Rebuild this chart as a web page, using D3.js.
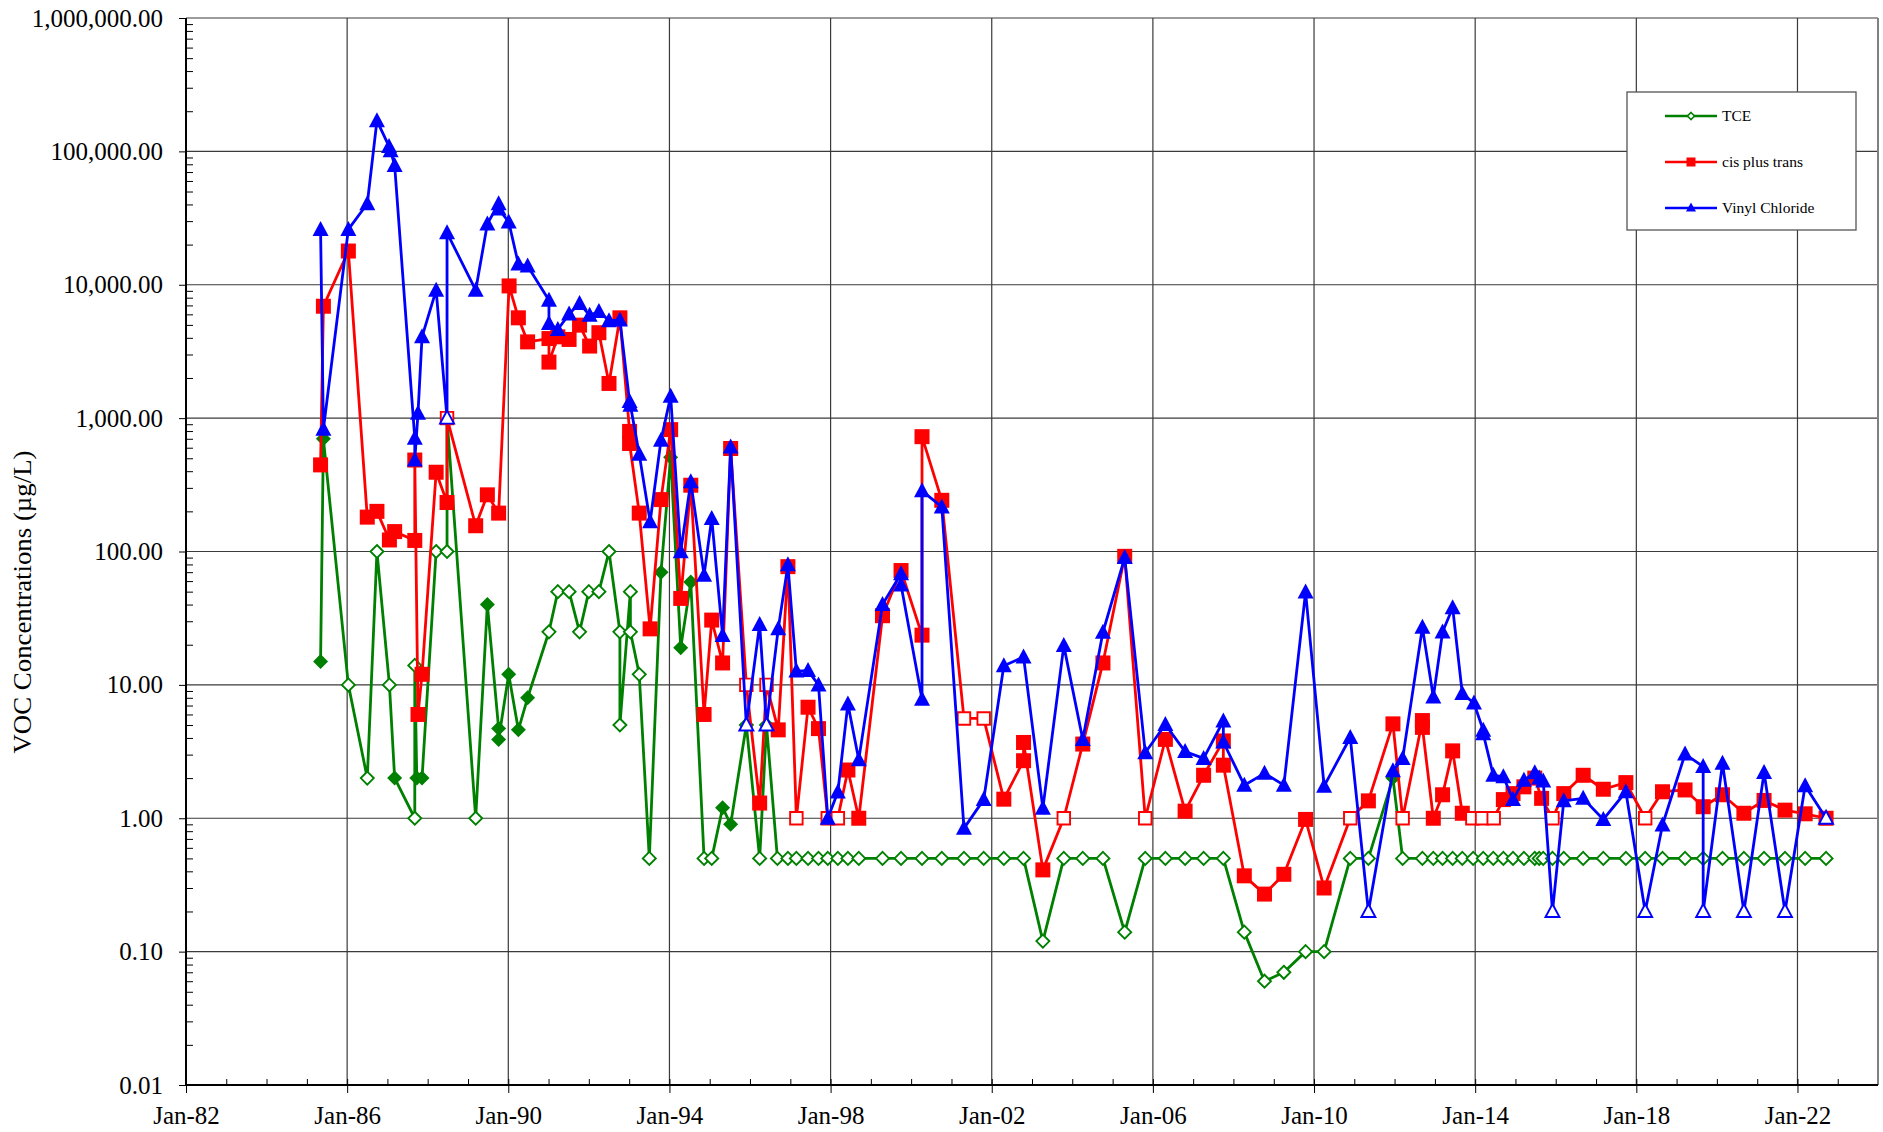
<!DOCTYPE html>
<html>
<head>
<meta charset="utf-8">
<script src="https://cdn.jsdelivr.net/npm/d3@7"></script>
<style>
  body { margin: 0; background: #fff; }
  svg text { font-family: "Liberation Serif", "Times New Roman", serif; fill: #000; }
</style>
</head>
<body>
<svg id="chart" width="1883" height="1132"></svg>
<script>
// ---------------- DATA (decimal year, value in µg/L, 1 = non-detect / open marker) ----------------
const tceYears = [1985.34,1985.41,1986.03,1986.50,1986.74,1987.05,1987.18,1987.68,1987.68,1987.73,1987.86,1988.21,1988.48,1988.48,1989.19,1989.48,1989.76,1989.76,1990.01,1990.25,1990.48,1991.01,1991.23,1991.51,1991.77,1992.00,1992.25,1992.50,1992.77,1992.77,1993.03,1993.03,1993.25,1993.50,1993.79,1994.03,1994.28,1994.53,1994.86,1995.05,1995.32,1995.52,1995.91,1996.24,1996.41,1996.68,1996.94,1997.15,1997.44,1997.70,1997.93,1998.18,1998.43,1998.70,1999.29,1999.75,2000.27,2000.76,2001.31,2001.80,2002.30,2002.79,2003.27,2003.79,2004.26,2004.76,2005.30,2005.81,2006.31,2006.80,2007.26,2007.75,2008.27,2008.77,2009.25,2009.79,2010.25,2010.90,2011.35,2011.96,2012.20,2012.69,2012.96,2013.19,2013.44,2013.68,2013.95,2014.20,2014.45,2014.70,2014.94,2015.21,2015.48,2015.59,2015.69,2015.92,2016.20,2016.68,2017.18,2017.74,2018.22,2018.65,2019.21,2019.66,2020.14,2020.67,2021.17,2021.69,2022.19,2022.71];
const tceValues = [15,700,10,2,100,10,2,1,14,2,2,100,100,1000,1,40,4.7,3.9,12,4.6,8,25,50,50,25,50,50,100,25,5,50,25,12,0.5,70,510,19,59,0.5,0.5,1.2,0.9,5,0.5,5,0.5,0.5,0.5,0.5,0.5,0.5,0.5,0.5,0.5,0.5,0.5,0.5,0.5,0.5,0.5,0.5,0.5,0.12,0.5,0.5,0.5,0.14,0.5,0.5,0.5,0.5,0.5,0.14,0.06,0.07,0.1,0.1,0.5,0.5,2.0,0.5,0.5,0.5,0.5,0.5,0.5,0.5,0.5,0.5,0.5,0.5,0.5,0.5,0.5,0.5,0.5,0.5,0.5,0.5,0.5,0.5,0.5,0.5,0.5,0.5,0.5,0.5,0.5,0.5,0.5];
const tceOpen = [0,0,1,1,1,1,0,1,1,0,0,1,1,1,1,0,0,0,0,0,0,1,1,1,1,1,1,1,1,1,1,1,1,1,0,0,0,0,1,1,0,0,1,1,1,1,1,1,1,1,1,1,1,1,1,1,1,1,1,1,1,1,1,1,1,1,1,1,1,1,1,1,1,1,1,1,1,1,1,0,1,1,1,1,1,1,1,1,1,1,1,1,1,1,1,1,1,1,1,1,1,1,1,1,1,1,1,1,1,1];

const cisYears = [1985.34,1985.41,1986.03,1986.50,1986.74,1987.05,1987.18,1987.68,1987.68,1987.76,1987.86,1988.21,1988.48,1988.48,1989.19,1989.48,1989.76,1990.02,1990.25,1990.48,1991.01,1991.01,1991.23,1991.51,1991.77,1992.02,1992.25,1992.50,1992.77,1993.01,1993.01,1993.25,1993.52,1993.79,1994.03,1994.28,1994.53,1994.86,1995.05,1995.32,1995.52,1995.91,1996.24,1996.41,1996.70,1996.94,1997.15,1997.44,1997.70,1997.93,1998.18,1998.43,1998.70,1999.29,1999.75,2000.27,2000.27,2000.76,2001.31,2001.80,2002.30,2002.79,2002.79,2003.27,2003.79,2004.26,2004.76,2005.30,2005.81,2006.31,2006.80,2007.26,2007.75,2007.75,2008.27,2008.77,2009.25,2009.79,2010.25,2010.90,2011.35,2011.96,2012.20,2012.69,2012.69,2012.96,2013.19,2013.44,2013.68,2013.93,2014.17,2014.46,2014.70,2014.94,2015.21,2015.48,2015.65,2015.92,2016.20,2016.68,2017.18,2017.74,2018.22,2018.65,2019.21,2019.66,2020.14,2020.67,2021.17,2021.69,2022.19,2022.71];
const cisValues = [446,6900,17900,181,200,122,141,121,485,6.0,12,393,233,1000,156,266,194,9800,5650,3730,3950,2630,4070,3890,4980,3470,4370,1820,5650,795,645,194,26.3,245,820,44.5,314,6.0,30.6,14.6,592,10,1.3,10,4.6,77,1.0,6.8,4.7,1.0,1.0,2.3,1.0,33,72,23.6,726,242,5.6,5.6,1.39,2.7,3.7,0.41,1.0,3.6,14.6,92,1.0,3.9,1.13,2.1,3.8,2.5,0.37,0.27,0.38,0.98,0.30,1.0,1.35,5.1,1.0,5.4,4.8,1.0,1.5,3.2,1.09,1.0,1.0,1.0,1.38,1.53,1.72,2.0,1.41,1.0,1.53,2.1,1.65,1.85,1.0,1.58,1.63,1.22,1.5,1.09,1.36,1.15,1.08,1.0];
const cisOpen = [0,0,0,0,0,0,0,0,0,0,0,0,0,1,0,0,0,0,0,0,0,0,0,0,0,0,0,0,0,0,0,0,0,0,0,0,0,0,0,0,0,1,0,1,0,0,1,0,0,1,1,0,0,0,0,0,0,0,1,1,0,0,0,0,1,0,0,0,1,0,0,0,0,0,0,0,0,0,0,1,0,0,1,0,0,0,0,0,0,1,1,1,0,0,0,0,0,1,0,0,0,0,1,0,0,0,0,0,0,0,0,0];

const vcYears = [1985.34,1985.41,1986.03,1986.50,1986.74,1987.04,1987.08,1987.18,1987.68,1987.68,1987.76,1987.86,1988.21,1988.48,1988.48,1989.19,1989.48,1989.76,1989.76,1990.01,1990.25,1990.48,1991.01,1991.01,1991.23,1991.51,1991.77,1992.02,1992.25,1992.50,1992.77,1993.01,1993.03,1993.25,1993.52,1993.79,1994.03,1994.28,1994.53,1994.86,1995.05,1995.32,1995.52,1995.91,1996.24,1996.41,1996.70,1996.94,1997.15,1997.44,1997.70,1997.93,1998.18,1998.43,1998.70,1999.29,1999.75,1999.75,2000.27,2000.27,2000.76,2001.31,2001.80,2002.30,2002.79,2003.27,2003.79,2004.26,2004.76,2005.30,2005.81,2006.31,2006.80,2007.26,2007.75,2007.75,2008.27,2008.77,2009.25,2009.79,2010.25,2010.90,2011.35,2011.96,2012.20,2012.69,2012.96,2013.19,2013.44,2013.68,2013.97,2014.20,2014.20,2014.45,2014.70,2014.94,2015.21,2015.48,2015.59,2015.69,2015.92,2016.20,2016.68,2017.18,2017.74,2018.22,2018.65,2019.21,2019.66,2019.66,2020.14,2020.67,2021.17,2021.69,2022.19,2022.71];
const vcValues = [26000,825,26000,40500,170000,109000,101000,78500,706,485,1090,4070,9100,1000,24500,9100,28600,40500,37000,29600,14300,13800,7650,5130,4620,6030,7250,5900,6300,5380,5430,1330,1250,535,167,682,1460,99.5,333,66.5,177,23.5,608,5.0,28.4,5.0,26.3,79.4,12.7,12.8,10,1.0,1.57,7.2,2.75,40,68,56,7.8,285,216,0.84,1.38,13.9,16.2,1.19,19.7,3.9,24.8,90,3.1,5.05,3.16,2.81,5.37,3.73,1.77,2.17,1.77,49.6,1.74,4.03,0.2,2.27,2.8,27,8.1,24.9,37.9,8.6,7.3,4.57,4.3,2.1,2.05,1.38,1.93,2.19,2.0,1.9,0.2,1.35,1.41,0.98,1.58,0.2,0.89,3.03,2.44,0.2,2.58,0.2,2.2,0.2,1.75,1.0];
const vcOpen = [0,0,0,0,0,0,0,0,0,0,0,0,0,1,0,0,0,0,0,0,0,0,0,0,0,0,0,0,0,0,0,0,0,0,0,0,0,0,0,0,0,0,0,1,0,1,0,0,0,0,0,0,0,0,0,0,0,0,0,0,0,0,0,0,0,0,0,0,0,0,0,0,0,0,0,0,0,0,0,0,0,0,1,0,0,0,0,0,0,0,0,0,0,0,0,0,0,0,0,0,1,0,0,0,0,1,0,0,0,1,0,1,0,1,0,1];

const xTickYears = [1982,1986,1990,1994,1998,2002,2006,2010,2014,2018,2022];
const yTickValues = [0.01,0.1,1,10,100,1000,10000,100000,1000000];
const seriesNames = ["TCE","cis plus trans","Vinyl Chloride"];
const yTitle = "VOC Concentrations (µg/L)";

// ---------------- CHART ----------------
const svg = d3.select("#chart");
const L = 186, R = 1878, T = 18, B = 1085;

function yearToDate(y) {
  const yr = Math.floor(y);
  const s = Date.UTC(yr, 0, 1), e = Date.UTC(yr + 1, 0, 1);
  return new Date(s + (y - yr) * (e - s));
}

const x = d3.scaleUtc().domain([new Date(Date.UTC(1982,0,1)), new Date(Date.UTC(2024,0,1))]).range([L, R]);
const y = d3.scaleLog().domain([0.01, 1e6]).range([B, T]);

const gridColor = "#3a3a3a";
svg.append("g").selectAll("line").data(yTickValues).join("line")
  .attr("x1", L).attr("x2", R)
  .attr("y1", d => y(d)).attr("y2", d => y(d))
  .attr("stroke", gridColor).attr("stroke-width", 1.2);
svg.append("g").selectAll("line").data(xTickYears.slice(1)).join("line")
  .attr("x1", d => x(yearToDate(d))).attr("x2", d => x(yearToDate(d)))
  .attr("y1", T).attr("y2", B)
  .attr("stroke", gridColor).attr("stroke-width", 1.2);
svg.append("line").attr("x1", R).attr("x2", R).attr("y1", T).attr("y2", B)
  .attr("stroke", "#808080").attr("stroke-width", 2);

// minor ticks
const minorY = [];
for (let e = -2; e < 6; e++) for (let m = 2; m <= 9; m++) minorY.push(m * Math.pow(10, e));
svg.append("g").attr("transform", `translate(${L},0)`)
  .call(d3.axisRight(y).tickValues(minorY).tickSize(7).tickFormat(""))
  .call(g => g.select(".domain").remove())
  .call(g => g.selectAll("line").attr("stroke", "#000"));

const minorX = d3.range(1983, 2024).map(yearToDate);
svg.append("g").attr("transform", `translate(0,${B})`)
  .call(d3.axisTop(x).tickValues(minorX).tickSize(6).tickFormat(""))
  .call(g => g.select(".domain").remove())
  .call(g => g.selectAll("line").attr("stroke", "#000"));

// Y axis
const fmtY = d3.format(",.2f");
svg.append("g").attr("transform", `translate(${L},0)`)
  .call(d3.axisLeft(y).tickValues(yTickValues).tickFormat(fmtY).tickSize(7).tickPadding(16))
  .call(g => g.select(".domain").attr("stroke", "#000").attr("stroke-width", 2).attr("d", `M0,${T}V${B}`))
  .call(g => g.selectAll("line").attr("stroke", "#000"))
  .call(g => g.selectAll("text").attr("font-size", 25).attr("font-family", "Liberation Serif"));

// X axis
const fmtX = d3.utcFormat("%b-%y");
svg.append("g").attr("transform", `translate(0,${B})`)
  .call(d3.axisBottom(x).tickValues(xTickYears.map(yearToDate)).tickFormat(fmtX).tickSize(8).tickPadding(13))
  .call(g => g.select(".domain").attr("stroke", "#000").attr("stroke-width", 2).attr("d", `M${L},0H${R}`))
  .call(g => g.selectAll("line").attr("stroke", "#000"))
  .call(g => g.selectAll("text").attr("font-size", 25).attr("font-family", "Liberation Serif"));

// Y title
svg.append("text")
  .attr("transform", "translate(31,602) rotate(-90)")
  .attr("text-anchor", "middle")
  .attr("font-size", 25)
  .attr("textLength", 303)
  .attr("lengthAdjust", "spacingAndGlyphs")
  .text(yTitle);

// ---------------- SERIES ----------------
function diamondPath(w) { const h = w / 2; return `M0,${-h}L${h},0L0,${h}L${-h},0Z`; }
function squarePath(s) { const h = s / 2; return `M${-h},${-h}H${h}V${h}H${-h}Z`; }
function trianglePath(w, hgt) { return `M0,${-hgt/2 - 1}L${w/2},${hgt/2 - 1}L${-w/2},${hgt/2 - 1}Z`; }

const series = [
  { name: seriesNames[0], color: "#008000", years: tceYears, values: tceValues, open: tceOpen,
    path: o => o ? diamondPath(13) : diamondPath(15) },
  { name: seriesNames[1], color: "#FF0000", years: cisYears, values: cisValues, open: cisOpen,
    path: o => o ? squarePath(12.5) : squarePath(15) },
  { name: seriesNames[2], color: "#0000FF", years: vcYears, values: vcValues, open: vcOpen,
    path: o => o ? trianglePath(14, 13) : trianglePath(16, 15) }
];

const line = d3.line().x(d => x(yearToDate(d.t))).y(d => y(d.v));

series.forEach(s => {
  const pts = s.years.map((t, i) => ({ t, v: s.values[i], o: s.open[i] }));
  const g = svg.append("g");
  g.append("path").datum(pts).attr("d", line)
    .attr("fill", "none").attr("stroke", s.color).attr("stroke-width", 2.8)
    .attr("stroke-linejoin", "round");
  g.selectAll("path.m").data(pts).join("path").attr("class", "m")
    .attr("transform", d => `translate(${x(yearToDate(d.t))},${y(d.v)})`)
    .attr("d", d => s.path(d.o))
    .attr("fill", d => d.o ? "#fff" : s.color)
    .attr("stroke", s.color)
    .attr("stroke-width", d => d.o ? 1.9 : 0);
});

// ---------------- LEGEND ----------------
const lg = svg.append("g");
lg.append("rect").attr("x", 1627).attr("y", 92).attr("width", 229).attr("height", 138)
  .attr("fill", "#fff").attr("stroke", "#555").attr("stroke-width", 1.3);
const legendPaths = [diamondPath(7), squarePath(9), trianglePath(10, 9)];
series.forEach((s, i) => {
  const cy = 116 + i * 46;
  lg.append("line").attr("x1", 1665).attr("x2", 1717).attr("y1", cy).attr("y2", cy)
    .attr("stroke", s.color).attr("stroke-width", 2.4);
  lg.append("path").attr("transform", `translate(1691,${cy})`).attr("d", legendPaths[i])
    .attr("fill", i === 0 ? "#fff" : s.color).attr("stroke", s.color).attr("stroke-width", i === 0 ? 1.6 : 0);
  lg.append("text").attr("x", 1722).attr("y", cy).attr("dy", "0.35em")
    .attr("font-size", 15.5).text(s.name);
});
</script>
</body>
</html>
